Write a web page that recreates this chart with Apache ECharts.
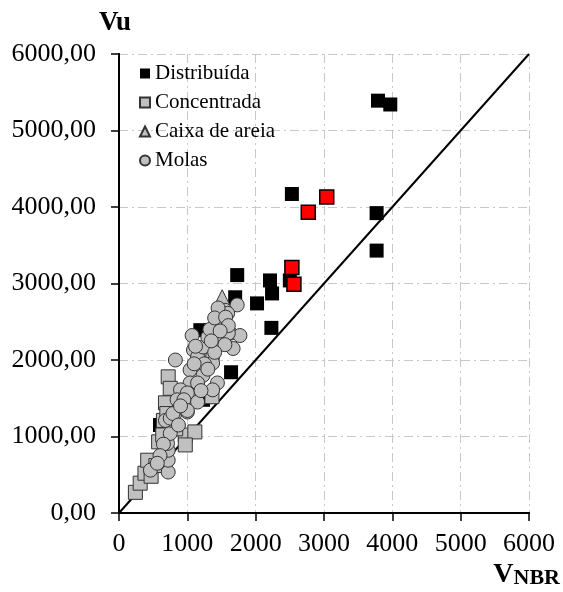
<!DOCTYPE html>
<html>
<head>
<meta charset="utf-8">
<script src="https://cdn.jsdelivr.net/npm/echarts@6/dist/echarts.min.js"></script>
<style>html,body{margin:0;padding:0;background:#fff}</style>
</head>
<body>
<div id="chart-panel" style="width:563px;height:592px"></div>
<script>
// [VNBR, Vu] pairs
const distribuida = [[3790,5390],[3970,5340],[2530,4170],[3770,3920],[3770,3430],[1730,3110],[2210,3040],[2240,2870],[2500,3040],[1700,2820],[2020,2740],[2230,2420],[1640,1840],[1190,2390],[1230,1480],[1280,1530],[600,1150],[700,1100],[1100,1500]];
const vermelhos = [[2770,3930],[3040,4130],[2530,3210],[2560,2990]];
const concentrada = [[240,270],[310,390],[380,520],[420,690],[470,480],[540,620],[580,930],[640,1020],[970,1020],[1110,1060],[970,890],[720,1780],[750,1630],[680,1440],[650,1210],[1360,1520],[830,1100],[700,1300]];
const caixaAreia = [[1510,2820]];
const molas = [[460,560],[720,535],[720,690],[720,820],[710,910],[750,1040],[780,1210],[680,1210],[820,1300],[1000,1320],[970,1480],[1070,1480],[825,2000],[1070,2320],[1380,2350],[1440,2220],[1630,2350],[1770,2320],[1670,2150],[1090,2130],[1230,2130],[1150,2040],[1370,2040],[1370,1960],[1040,1870],[1230,1800],[1040,1700],[1440,1700],[1370,1610],[900,1610],[1000,1570],[850,1480],[950,1480],[1150,1450],[1000,1340],[750,1240],[790,1300],[1730,2720],[1550,2650],[1590,2610],[1440,2450],[1380,2390],[1510,2300],[1600,2350],[1440,2230],[1230,2170],[1550,2200],[1120,2180],[1450,2680],[1500,2500],[1300,2300],[1330,2400],[1250,1950],[1300,1880],[1150,1700],[1200,1600],[900,1400],[870,1150],[650,900],[600,750],[560,650],[1400,2550],[1560,2560],[1600,2450],[1100,1950],[1400,2100],[1480,2380],[1350,2250]];
const referencia = [[0,0],[6000,6000]];

const font = "'Liberation Serif', 'Times New Roman', serif";
const gray = '#c0c0c0';
const frame = { show: true, lineStyle: { color: '#000', width: 2 } };

var myChart = echarts.init(document.getElementById('chart-panel'));
myChart.setOption({
  animation: false,
  grid: { left: 119, right: 34, top: 54, bottom: 79 },
  legend: {
    data: ['Distribuída', 'Concentrada', 'Caixa de areia', 'Molas'],
    orient: 'vertical', left: 139, top: 63, padding: 0,
    itemWidth: 10, itemHeight: 10, itemGap: 8,
    textStyle: { fontFamily: font, fontSize: 21, color: '#000', lineHeight: 21 }
  },
  xAxis: [{
    type: 'value', min: 0, max: 6000, interval: 1000,
    axisLine: frame,
    axisTick: { length: 8, lineStyle: { color: '#000', width: 1.5 } },
    axisLabel: { fontFamily: font, fontSize: 26, color: '#000', margin: 18, formatter: v => String(v) },
    splitLine: { lineStyle: { color: '#c8c8c8', width: 1, type: [9, 4, 2, 4] } }
  }, {
    type: 'value', position: 'top', min: 0, max: 6000,
    axisLine: frame, axisTick: { show: false }, axisLabel: { show: false }, splitLine: { show: false }
  }],
  yAxis: [{
    type: 'value', min: 0, max: 6000, interval: 1000,
    axisLine: frame,
    axisTick: { show: true, length: 8, lineStyle: { color: '#000', width: 1.5 } },
    axisLabel: { fontFamily: font, fontSize: 26, color: '#000', margin: 23,
      formatter: v => v.toFixed(2).replace('.', ',') },
    splitLine: { lineStyle: { color: '#c8c8c8', width: 1, type: [9, 4, 2, 4] } }
  }, {
    type: 'value', position: 'right', min: 0, max: 6000,
    axisLine: frame, axisTick: { show: false }, axisLabel: { show: false }, splitLine: { show: false }
  }],
  graphic: [
    { type: 'text', left: 99, top: 10, style: { text: 'Vu', font: "bold 27px 'Liberation Serif'", fill: '#000' } },
    { type: 'text', right: 3, top: 561, style: {
      text: '{a|V}{b|NBR}', fill: '#000',
      rich: { a: { fontFamily: font, fontWeight: 'bold', fontSize: 28 }, b: { fontFamily: font, fontWeight: 'bold', fontSize: 22, verticalAlign: 'bottom' } }
    } }
  ],
  series: [
    { type: 'line', data: referencia, symbol: 'none', silent: true, z: 1,
      lineStyle: { color: '#000', width: 2 } },
    { name: 'Distribuída', type: 'scatter', data: distribuida, symbol: 'rect', symbolSize: 14,
      itemStyle: { color: '#000', opacity: 1 } },
    { name: 'Concentrada', type: 'scatter', data: concentrada, symbol: 'rect', symbolSize: 14,
      itemStyle: { color: gray, borderColor: '#333', borderWidth: 1, opacity: 1 } },
    { name: 'Caixa de areia', type: 'scatter', data: caixaAreia, symbol: 'triangle', symbolSize: 15,
      itemStyle: { color: gray, borderColor: '#333', borderWidth: 1, opacity: 1 } },
    { name: 'Molas', type: 'scatter', data: molas, symbol: 'circle', symbolSize: 14,
      itemStyle: { color: gray, borderColor: '#333', borderWidth: 1, opacity: 1 } },
    { name: 'Vermelho', type: 'scatter', data: vermelhos, symbol: 'rect', symbolSize: 14,
      itemStyle: { color: '#ff0000', borderColor: '#000', borderWidth: 1.5, opacity: 1 } }
  ]
});
</script>
</body>
</html>
